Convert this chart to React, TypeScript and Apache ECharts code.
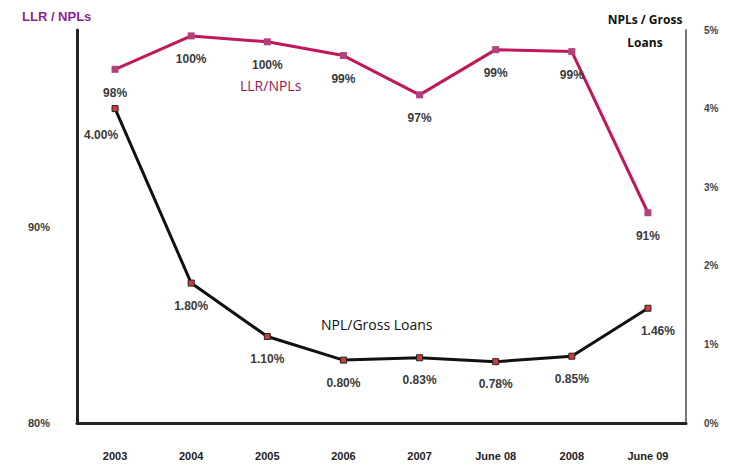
import React, { useEffect, useRef } from "react";
import * as echarts from "echarts";

const categories = ["2003", "2004", "2005", "2006", "2007", "June 08", "2008", "June 09"];
const llrNpls = [98.0, 99.7, 99.4, 98.7, 96.7, 99.0, 98.9, 90.7];
const llrLabels = ["98%", "100%", "100%", "99%", "97%", "99%", "99%", "91%"];
const nplGross = [4.0, 1.78, 1.1, 0.8, 0.83, 0.78, 0.85, 1.46];
const nplLabels = ["4.00%", "1.80%", "1.10%", "0.80%", "0.83%", "0.78%", "0.85%", "1.46%"];
const leftTicks = { 80: "80%", 90: "90%" } as Record<number, string>;
const rightTicks = ["0%", "1%", "2%", "3%", "4%", "5%"];

export default function App() {
  const ref = useRef<HTMLDivElement>(null);
  useEffect(() => {
    document.body.style.margin = "0";
    const chart = echarts.init(ref.current!, null, { renderer: "svg" });
    const labelFont = {
      fontFamily: "Liberation Sans, Arial, sans-serif",
      fontWeight: "bold" as const,
      fontSize: 12,
      color: "#3a3a3a",
    };
    chart.setOption({
      animation: false,
      backgroundColor: "#ffffff",
      grid: { left: 77, right: 49, top: 30, bottom: 43 },
      xAxis: {
        type: "category",
        data: categories,
        boundaryGap: true,
        axisLine: { lineStyle: { color: "#222", width: 3 } },
        axisTick: { show: false },
        axisLabel: { ...labelFont, fontSize: 11, color: "#222", margin: 27 },
        splitLine: { show: false },
      },
      yAxis: [
        {
          type: "value",
          min: 80,
          max: 100,
          interval: 10,
          position: "left",
          axisLine: { show: true, lineStyle: { color: "#222", width: 3 } },
          axisTick: { show: false },
          splitLine: { show: false },
          axisLabel: {
            ...labelFont,
            fontSize: 11,
            margin: 27,
            formatter: (v: number) => leftTicks[v] ?? "",
          },
        },
        {
          type: "value",
          min: 0,
          max: 5,
          interval: 1,
          position: "right",
          axisLine: { show: true, lineStyle: { color: "#777", width: 2 } },
          axisTick: { show: false },
          splitLine: { show: false },
          axisLabel: {
            ...labelFont,
            fontSize: 10,
            color: "#444",
            margin: 18,
            formatter: (v: number) => rightTicks[Math.round(v)] ?? "",
          },
        },
      ],
      series: [
        {
          type: "line",
          name: "LLR/NPLs",
          yAxisIndex: 0,
          data: llrNpls,
          symbol: "rect",
          symbolSize: 7,
          itemStyle: { color: "#b4407e" },
          lineStyle: { color: "#c0185a", width: 3 },
          label: {
            show: true,
            position: "bottom",
            distance: 14,
            ...labelFont,
            formatter: (p: any) => llrLabels[p.dataIndex],
          },
        },
        {
          type: "line",
          name: "NPL/Gross Loans",
          yAxisIndex: 1,
          data: nplGross.map((v, i) => {
            const item: any = { value: v };
            if (i === 0) item.label = { offset: [-14, 4] };
            if (i === 7) item.label = { offset: [10, 0] };
            return item;
          }),
          symbol: "rect",
          symbolSize: 6,
          itemStyle: { color: "#d43a3a", borderColor: "#222", borderWidth: 1 },
          lineStyle: { color: "#111", width: 3 },
          label: {
            show: true,
            position: "bottom",
            distance: 13,
            ...labelFont,
            formatter: (p: any) => nplLabels[p.dataIndex],
          },
        },
      ],
      graphic: [
        {
          type: "text",
          left: 22,
          top: 10,
          style: {
            text: "LLR / NPLs",
            fill: "#8e1f94",
            font: "bold 13px 'Liberation Sans', Arial, sans-serif",
          },
        },
        {
          type: "text",
          x: 645,
          y: 8,
          style: {
            text: "NPLs / Gross\nLoans",
            fill: "#111",
            align: "center",
            lineHeight: 23,
            font: "bold 12px 'Open Sans', sans-serif",
          },
        },
        {
          type: "text",
          left: 240,
          top: 78,
          style: {
            text: "LLR/NPLs",
            fill: "#a0124a",
            font: "14px 'Open Sans', sans-serif",
          },
        },
        {
          type: "text",
          left: 321,
          top: 317,
          style: {
            text: "NPL/Gross Loans",
            fill: "#111",
            font: "14px 'Open Sans', sans-serif",
          },
        },
      ],
    });
    return () => chart.dispose();
  }, []);
  return <div ref={ref} style={{ width: 735, height: 466, position: "absolute", left: 0, top: 0 }} />;
}
